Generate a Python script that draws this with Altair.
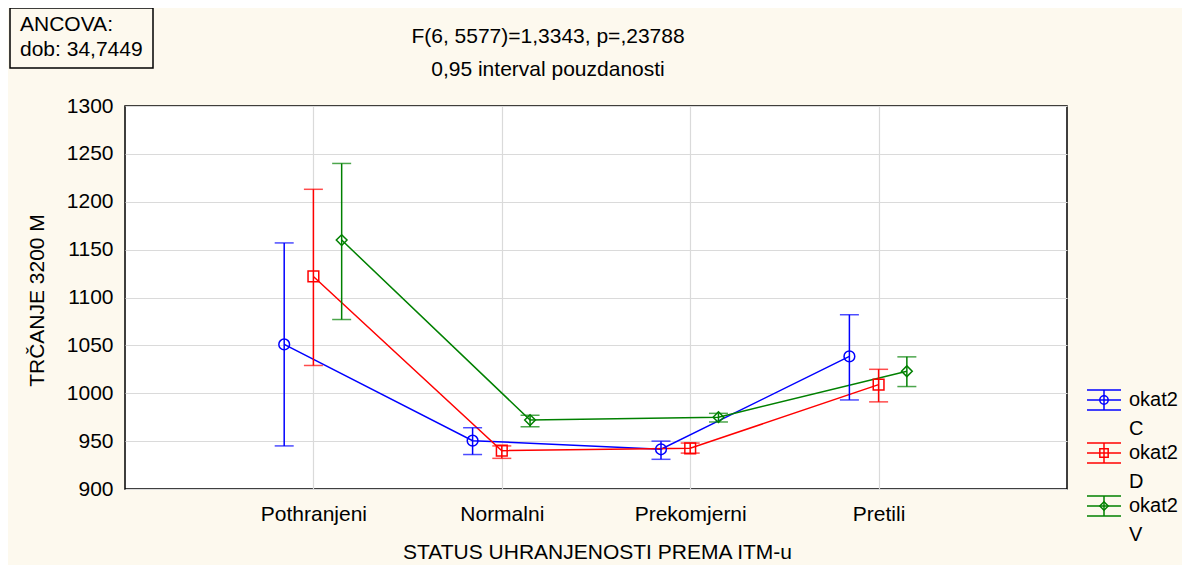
import altair as alt
import pandas as pd

cats = ["Pothranjeni", "Normalni", "Prekomjerni", "Pretili"]
series = ["C", "D", "V"]
colors = ["#0000FF", "#FF0000", "#008000"]
shapes = ["circle", "square", "diamond"]
offsets = [-0.155, 0.0, 0.15]

C_mean = [1051, 950.5, 941.5, 1038.5]
C_lo = [945, 936, 931, 993]
C_hi = [1157, 964, 950, 1082]
D_mean = [1122, 940, 942.5, 1009]
D_lo = [1029, 932, 937.5, 991]
D_hi = [1213, 945, 948, 1025]
V_mean = [1160, 972, 975, 1023]
V_lo = [1077, 965, 970, 1007]
V_hi = [1240, 977, 979, 1038]

y_ticks = [900, 950, 1000, 1050, 1100, 1150, 1200, 1250, 1300]

FONT = "Liberation Sans"
FS = 21
BG = "#FDF9EE"

rows = []
for s, m, lo, hi, off in [("C", C_mean, C_lo, C_hi, offsets[0]),
                          ("D", D_mean, D_lo, D_hi, offsets[1]),
                          ("V", V_mean, V_lo, V_hi, offsets[2])]:
    for i, c in enumerate(cats):
        rows.append(dict(series=s, cat=c, pos=i + 1 + off, mean=m[i], lo=lo[i], hi=hi[i]))
df = pd.DataFrame(rows)

label_expr = " : ".join(f"datum.value == {i+1} ? '{c}'" for i, c in enumerate(cats)) + " : ''"

x_enc = alt.X("pos:Q",
              scale=alt.Scale(domain=[0, 5], nice=False, zero=False),
              axis=alt.Axis(values=[1, 2, 3, 4], labelExpr=label_expr,
                            title="STATUS UHRANJENOSTI PREMA ITM-u",
                            titleX=472, titleY=63, titleBaseline="middle",
                            labelPadding=14, ticks=False, domain=False,
                            grid=True))
y_enc = alt.Y("mean:Q",
              scale=alt.Scale(domain=[900, 1300], nice=False, zero=False),
              axis=alt.Axis(values=y_ticks, format="d", title="TRČANJE 3200 M",
                            titleX=-88, titleY=194, titleAngle=-90,
                            titleAlign="center", titleBaseline="middle",
                            labelPadding=12, ticks=False, domain=False,
                            grid=True))
color_enc = alt.Color("series:N", scale=alt.Scale(domain=series, range=colors), legend=None)
shape_enc = alt.Shape("series:N", scale=alt.Scale(domain=series, range=shapes), legend=None)

base = alt.Chart(df)
lines = base.mark_line(strokeWidth=1.5).encode(x=x_enc, y=y_enc, color=color_enc, detail="series:N")
bars = base.mark_rule(strokeWidth=1.5).encode(x="pos:Q", y="lo:Q", y2="hi:Q", color=color_enc)
cap_lo = base.mark_tick(orient="horizontal", size=19, thickness=1.5).encode(x="pos:Q", y="lo:Q", color=color_enc)
cap_hi = base.mark_tick(orient="horizontal", size=19, thickness=1.5).encode(x="pos:Q", y="hi:Q", color=color_enc)
pts = base.mark_point(filled=False, size=115, strokeWidth=1.5, opacity=1).encode(
    x="pos:Q", y="mean:Q", color=color_enc, shape=shape_enc)

one = pd.DataFrame({"k": [0]})

# Legend (manual)
legend_layers = []
leg_y = [294, 347, 400]
for s, col, shp, ly in zip(series, colors, shapes, leg_y):
    c = alt.Chart(one)
    legend_layers += [
        c.mark_rule(color=col, strokeWidth=1.5).encode(x=alt.value(962), x2=alt.value(996), y=alt.value(ly)),
        c.mark_rule(color=col, strokeWidth=1.5).encode(x=alt.value(962), x2=alt.value(996), y=alt.value(ly - 10)),
        c.mark_rule(color=col, strokeWidth=1.5).encode(x=alt.value(962), x2=alt.value(996), y=alt.value(ly + 10)),
        c.mark_rule(color=col, strokeWidth=1.5).encode(x=alt.value(979), y=alt.value(ly - 10), y2=alt.value(ly + 10)),
        c.mark_point(color=col, filled=False, shape=shp, size=70, strokeWidth=1.5, opacity=1).encode(
            x=alt.value(979), y=alt.value(ly)),
        c.mark_text(font=FONT, fontSize=20, align="left", baseline="middle", color="black").encode(
            x=alt.value(1004), y=alt.value(ly), text=alt.value("okat2")),
        c.mark_text(font=FONT, fontSize=20, align="left", baseline="middle", color="black").encode(
            x=alt.value(1004), y=alt.value(ly + 29), text=alt.value(s)),
    ]

# Titles and ANCOVA box
t = alt.Chart(one)
extra = [
    t.mark_text(font=FONT, fontSize=FS, align="center", baseline="middle", color="black").encode(
        x=alt.value(423), y=alt.value(-69), text=alt.value("F(6, 5577)=1,3343, p=,23788")),
    t.mark_text(font=FONT, fontSize=FS, align="center", baseline="middle", color="black").encode(
        x=alt.value(423), y=alt.value(-36), text=alt.value("0,95 interval pouzdanosti")),
    t.mark_rect(fill=BG, stroke="black", strokeWidth=1.5).encode(
        x=alt.value(-115), x2=alt.value(28), y=alt.value(-98), y2=alt.value(-38)),
    t.mark_text(font=FONT, fontSize=FS, align="left", baseline="middle", color="black").encode(
        x=alt.value(-105), y=alt.value(-81), text=alt.value("ANCOVA:")),
    t.mark_text(font=FONT, fontSize=FS, align="left", baseline="middle", color="black").encode(
        x=alt.value(-105), y=alt.value(-56), text=alt.value("dob: 34,7449")),
]

chart = alt.layer(lines, bars, cap_lo, cap_hi, pts, *legend_layers, *extra).properties(
    width=942, height=383,
    autosize=alt.AutoSizeParams(type="none"),
    padding={"left": 117, "top": 98, "right": 115, "bottom": 76},
    background=BG,
).configure_view(
    stroke="black", strokeWidth=1.5, fill="white"
).configure_axis(
    labelFont=FONT, titleFont=FONT, labelFontSize=FS, titleFontSize=FS,
    labelColor="black", titleColor="black", titleFontWeight="normal",
    gridColor="#DADADA", gridWidth=1.2,
)

chart.save("out.html", embed_options={"renderer": "svg", "actions": False})
